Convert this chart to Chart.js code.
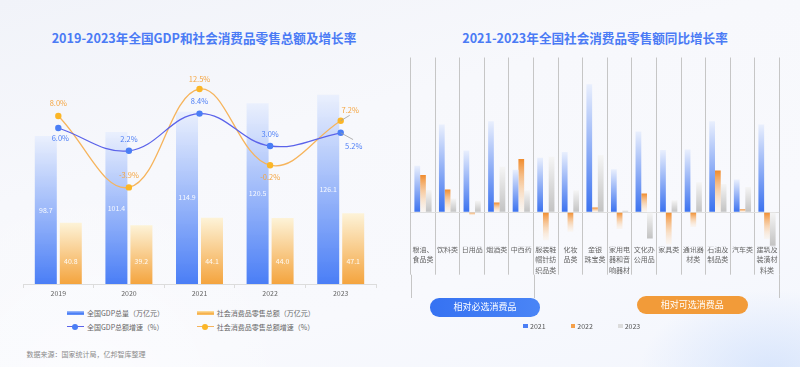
<!DOCTYPE html>
<html><head><meta charset="utf-8">
<script src="https://cdn.jsdelivr.net/npm/chart.js@4.4.0/dist/chart.umd.min.js"></script>
<style>
html,body{margin:0;padding:0;}
body{width:800px;height:367px;overflow:hidden;position:relative;font-family:"Noto Sans CJK SC","Noto Sans",sans-serif;
 background:linear-gradient(165deg,#f1f3f9 0%,#f7f8fc 35%,#f8f9fd 70%,#f3f6fd 100%);}
.bg1{position:absolute;left:-120px;top:180px;width:420px;height:420px;border-radius:50%;background:radial-gradient(closest-side,rgba(255,255,255,0.55),rgba(255,255,255,0));}
.bg2{position:absolute;left:640px;top:290px;width:260px;height:160px;border-radius:50%;background:radial-gradient(closest-side,rgba(214,228,252,0.9),rgba(214,228,252,0));}
.title{position:absolute;top:29px;font-size:12.6px;font-weight:bold;color:#4b7bf5;white-space:nowrap;transform:translateX(-50%);line-height:18px;}
canvas{position:absolute;top:0;}
#c1{left:0;}
#c2{left:400px;}
.lt{position:absolute;font-size:7px;color:#666;line-height:10px;white-space:nowrap;}
.ico{position:absolute;}
.btn{position:absolute;color:#fff;font-size:9px;text-align:center;white-space:nowrap;}
.src{position:absolute;left:26.5px;top:349px;font-size:7px;color:#8a8a8a;line-height:10px;white-space:nowrap;}
</style></head>
<body>
<div class="bg1"></div><div class="bg2"></div>
<div class="title" style="left:204px">2019-2023年全国GDP和社会消费品零售总额及增长率</div>
<div class="title" style="left:595px">2021-2023年全国社会消费品零售额同比增长率</div>
<canvas id="c1" width="400" height="300"></canvas>
<canvas id="c2" width="400" height="300"></canvas>

<!-- left legend -->
<div class="ico" style="left:66.7px;top:310.5px;width:17.3px;height:4.5px;background:linear-gradient(180deg,#a9c3fb,#4a7ef6 60%,#6d97f8)"></div>
<div class="lt" style="left:87px;top:307.7px">全国GDP总量（万亿元）</div>
<div class="ico" style="left:196.7px;top:310.5px;width:17px;height:4.5px;background:linear-gradient(180deg,#fde3a6,#f6b04c 60%,#f8c36c)"></div>
<div class="lt" style="left:216.7px;top:307.7px">社会消费品零售总额（万亿元）</div>
<div class="ico" style="left:66.7px;top:326.2px;width:17.3px;height:1.2px;background:#5b63ea"></div>
<div class="ico" style="left:72.3px;top:323.7px;width:6px;height:6px;border-radius:50%;background:#4a7ef5"></div>
<div class="lt" style="left:87px;top:321.7px">全国GDP总额增速（%）</div>
<div class="ico" style="left:196.7px;top:326.2px;width:17px;height:1.2px;background:#f6b45c"></div>
<div class="ico" style="left:202.2px;top:323.7px;width:6px;height:6px;border-radius:50%;background:#fbb627"></div>
<div class="lt" style="left:216.7px;top:321.7px">社会消费品零售总额增速（%）</div>

<div class="src">数据来源：国家统计局，亿邦智库整理</div>

<!-- right buttons & legend -->
<div class="btn" style="left:430px;top:298.3px;width:110px;height:18.4px;line-height:18.4px;border-radius:9.2px;background:linear-gradient(90deg,#3672f2,#4a85f6)">相对必选消费品</div>
<div class="btn" style="left:637px;top:295.7px;width:110.7px;height:18.6px;line-height:18.6px;border-radius:9.3px;background:#f29b39">相对可选消费品</div>
<div class="ico" style="left:523.3px;top:324px;width:4.5px;height:4px;background:#4a7ef5"></div>
<div class="lt" style="left:530px;top:321px;color:#555">2021</div>
<div class="ico" style="left:570.7px;top:324px;width:4.5px;height:4px;background:#f5a04a"></div>
<div class="lt" style="left:577.3px;top:321px;color:#555">2022</div>
<div class="ico" style="left:618px;top:324px;width:4.5px;height:4px;background:#dcdcdc"></div>
<div class="lt" style="left:624.7px;top:321px;color:#555">2023</div>

<script>
const years = ['2019','2020','2021','2022','2023'];
const gdpTotal = [98.7, 101.4, 114.9, 120.5, 126.1];
const retailTotal = [40.8, 39.2, 44.1, 44.0, 47.1];
const gdpGrowth = [6.0, 2.2, 8.4, 3.0, 5.2];
const retailGrowth = [8.0, -3.9, 12.5, -0.2, 7.2];

const categories = [['粮油、','食品类'],['饮料类'],['日用品'],['烟酒类'],['中西药'],['服装鞋','帽针纺','织品类'],['化妆','品类'],['金银','珠宝类'],['家用电','器和音','响器材'],['文化办','公用品'],['家具类'],['通讯器','材类'],['石油及','制品类'],['汽车类'],['建筑及','装潢材','料类']];
const growth2021 = [10.8, 20.4, 14.4, 21.2, 9.9, 12.7, 14.0, 29.8, 10.0, 18.8, 14.5, 14.6, 21.2, 7.6, 20.4];
const growth2022 = [8.7, 5.3, -0.7, 2.3, 12.4, -6.5, -4.5, 1.1, -3.9, 4.4, -7.5, -3.4, 9.7, 0.7, -6.2];
const growth2023 = [5.2, 3.2, 2.7, 10.6, 5.1, 12.9, 5.1, 13.3, 0.5, -6.1, 2.8, 7.0, 6.6, 5.9, -7.8];

// label placement (style only): [dx, dy] from point
const gdpLabelOffset = [[2,10],[0,-12],[0,-12],[0,-12],[13,13.5]];
const retailLabelOffset = [[0,-12.5],[0,-12],[0,-10],[0,11.5],[9.5,-11]];

const FONT = '"Noto Sans CJK SC","Noto Sans",sans-serif';
Chart.defaults.font.family = FONT;

function barGrad(topColor, bottomColor){
  return (c)=>{
    const chart = c.chart, area = chart.chartArea;
    if(!area || c.type !== 'data') return bottomColor;
    const ds = chart.data.datasets[c.datasetIndex];
    const v = ds.data[c.dataIndex];
    const ys = chart.scales[ds.yAxisID || 'y'];
    const yv = ys.getPixelForValue(v), y0 = ys.getPixelForValue(Math.max(ys.min, 0));
    const top = Math.min(yv, y0), bot = Math.max(yv, y0);
    const g = chart.ctx.createLinearGradient(0, top, 0, bot + 0.01);
    g.addColorStop(0, topColor); g.addColorStop(1, bottomColor);
    return g;
  };
}

const leftLabels = {
  id:'leftLabels',
  afterDatasetsDraw(chart){
    const ctx = chart.ctx;
    ctx.save();
    ctx.textAlign = 'center'; ctx.textBaseline = 'middle';
    ctx.font = '7px ' + FONT;
    ctx.fillStyle = 'rgba(255,255,255,0.92)';
    chart.getDatasetMeta(2).data.forEach((el,i)=>{ ctx.fillText(gdpTotal[i].toFixed(1), el.x, (el.y+el.base)/2); });
    chart.getDatasetMeta(3).data.forEach((el,i)=>{ ctx.fillText(retailTotal[i].toFixed(1), el.x, el.base-23); });
    const drawLine = (meta, vals, offs, color)=>{
      meta.data.forEach((el,i)=>{
        const [dx,dy] = offs[i];
        if(dx > 5){
          ctx.strokeStyle = '#a0a0a0'; ctx.lineWidth = 0.8;
          ctx.beginPath(); ctx.moveTo(el.x, el.y); ctx.lineTo(el.x + dx*0.95, el.y + dy*0.5); ctx.stroke();
        }
        ctx.fillStyle = color;
        ctx.font = '7.5px ' + FONT;
        ctx.fillText(vals[i].toFixed(1) + '%', el.x + dx, el.y + dy);
      });
    };
    drawLine(chart.getDatasetMeta(0), gdpGrowth, gdpLabelOffset, '#4d7ef6');
    drawLine(chart.getDatasetMeta(1), retailGrowth, retailLabelOffset, '#f5a540');
    ctx.restore();
  }
};

new Chart(document.getElementById('c1'), {
  data:{labels:years, datasets:[
    {type:'line', label:'全国GDP总额增速（%）', data:gdpGrowth, yAxisID:'y2', borderColor:'#5b63ea', borderWidth:1.3, tension:0.4,
     pointRadius:3.2, pointBackgroundColor:'#4a7ef5', pointBorderWidth:0, order:0},
    {type:'line', label:'社会消费品零售总额增速（%）', data:retailGrowth, yAxisID:'y2', borderColor:'#f6b45c', borderWidth:1.3, tension:0.4,
     pointRadius:3.2, pointBackgroundColor:'#fbb627', pointBorderWidth:0, order:0},
    {type:'bar', label:'全国GDP总量（万亿元）', data:gdpTotal, yAxisID:'y', backgroundColor:barGrad('rgba(233,239,253,0.95)','#4a7ef6'),
     categoryPercentage:0.708, barPercentage:0.88, order:1},
    {type:'bar', label:'社会消费品零售总额（万亿元）', data:retailTotal, yAxisID:'y', backgroundColor:barGrad('#fdf3d8','#f4a43e'),
     categoryPercentage:0.708, barPercentage:0.88, order:1}
  ]},
  options:{
    responsive:false, animation:false,
    layout:{padding:{left:23, right:24, top:44, bottom:0}},
    plugins:{legend:{display:false}, tooltip:{enabled:false}},
    scales:{
      x:{grid:{offset:true, drawOnChartArea:false, drawTicks:true, tickLength:4, color:'#dcdcdc'},
         border:{color:'#dcdcdc'}, ticks:{font:{size:7}, color:'#666', padding:1},
         afterFit:s=>{s.height=16;}},
      y:{display:false, min:0, max:160},
      y2:{display:false, min:-20, max:20, position:'right'}
    }
  },
  plugins:[leftLabels]
});

const sepLines = {
  id:'sepLines',
  afterDraw(chart){
    const ctx = chart.ctx, a = chart.chartArea, n = categories.length, w = (a.right - a.left)/n;
    ctx.save(); ctx.strokeStyle = '#c6c6c6'; ctx.lineWidth = 1;
    [0,5,15].forEach(i=>{
      const x = Math.round(a.left + i*w) + 0.5;
      ctx.beginPath(); ctx.moveTo(x, a.bottom + 28); ctx.lineTo(x, 298); ctx.stroke();
    });
    ctx.restore();
  }
};

new Chart(document.getElementById('c2'), {
  type:'bar',
  data:{labels:categories, datasets:[
    {label:'2021', data:growth2021, backgroundColor:barGrad('#e9effd','#3a71ef')},
    {label:'2022', data:growth2022, backgroundColor:barGrad('#f08b2c','rgba(253,236,214,0.25)')},
    {label:'2023', data:growth2023, backgroundColor:barGrad('#f5f5f5','#c2c2c2')}
  ]},
  options:{
    responsive:false, animation:false,
    datasets:{bar:{categoryPercentage:0.7, barPercentage:1}},
    layout:{padding:{left:10.7, right:20.7, top:57.5, bottom:0}},
    plugins:{legend:{display:false}, tooltip:{enabled:false}},
    scales:{
      x:{grid:{offset:true, color:'#c6c6c6', tickLength:28, drawTicks:true}, border:{display:false},
         ticks:{font:{size:7, lineHeight:1.53}, color:'#666', padding:-31, maxRotation:0, minRotation:0, autoSkip:false},
         afterFit:s=>{s.height=300-246.7;}},
      y:{min:-8, max:36, ticks:{display:false, stepSize:4}, border:{display:false},
         grid:{drawTicks:false, color:c=>c.tick && c.tick.value===0 ? '#dedede' : 'rgba(0,0,0,0)'},
         afterFit:s=>{s.width=0;}}
    }
  },
  plugins:[sepLines]
});
</script>
</body></html>
